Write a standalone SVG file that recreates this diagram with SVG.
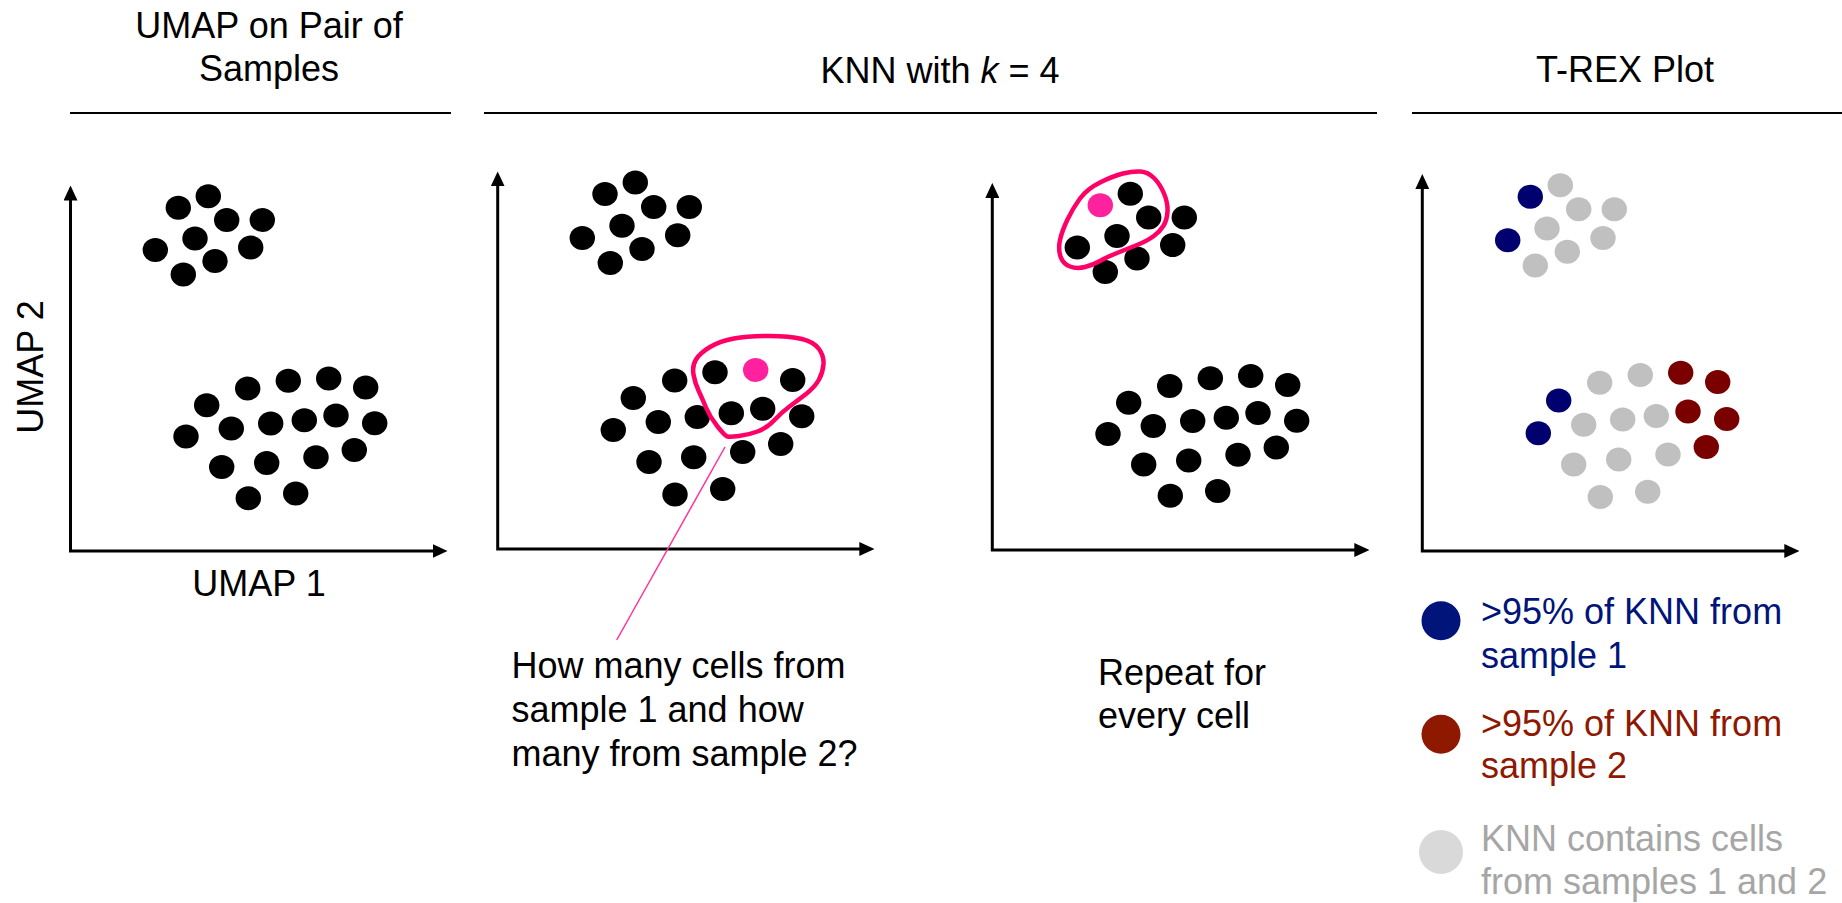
<svg xmlns="http://www.w3.org/2000/svg" width="1842" height="903" viewBox="0 0 1842 903">
<style>
.t{font-family:"Liberation Sans",Arial,sans-serif;font-size:36px;fill:#000}
.mid{text-anchor:middle}
.sep{stroke:#000;stroke-width:2;fill:none}
.ax{stroke:#000;stroke-width:3;fill:none;marker-start:url(#ah);marker-end:url(#ah)}
.k{fill:#000}
.pk{fill:#FF219E}
.nv{fill:#00006E}
.rd{fill:#7A0000}
.gy{fill:#C0C0C0}
.lasso{fill:none;stroke:#FF0066;stroke-width:4.5;stroke-linejoin:round}
.lead{stroke:#FF3399;stroke-width:1.5;fill:none}
</style>
<defs>
<marker id="ah" viewBox="0 0 15 14" refX="3" refY="7" markerWidth="15" markerHeight="14" markerUnits="userSpaceOnUse" orient="auto-start-reverse">
<path d="M0,0 L15,7 L0,14 z" fill="#000"/>
</marker>
</defs>
<rect width="1842" height="903" fill="#fff"/>

<g id="panel-umap">
<text class="t mid" x="269" y="38">UMAP on Pair of</text>
<text class="t mid" x="269" y="80.5">Samples</text>
<line class="sep" x1="70" y1="113" x2="451" y2="113"/>
<path class="ax" d="M70.5,197.5 L70.5,551 L435.5,551"/>
<text class="t mid" transform="translate(43,367) rotate(-90)">UMAP 2</text>
<text class="t mid" x="259" y="596">UMAP 1</text>
<g>
<ellipse class="k" cx="178.3" cy="207.8" rx="12.7" ry="12"/>
<ellipse class="k" cx="208.3" cy="196.3" rx="12.7" ry="12"/>
<ellipse class="k" cx="226.7" cy="220" rx="12.7" ry="12"/>
<ellipse class="k" cx="262.3" cy="220" rx="12.7" ry="12"/>
<ellipse class="k" cx="195" cy="238.4" rx="12.7" ry="12"/>
<ellipse class="k" cx="250.7" cy="247.6" rx="12.7" ry="12"/>
<ellipse class="k" cx="155.3" cy="249.9" rx="12.7" ry="12"/>
<ellipse class="k" cx="215" cy="261" rx="12.7" ry="12"/>
<ellipse class="k" cx="183.3" cy="274.4" rx="12.7" ry="12"/>
<ellipse class="k" cx="247.7" cy="388.4" rx="12.7" ry="12"/>
<ellipse class="k" cx="288.3" cy="380.7" rx="12.7" ry="12"/>
<ellipse class="k" cx="328.7" cy="378.5" rx="12.7" ry="12"/>
<ellipse class="k" cx="365.7" cy="387.6" rx="12.7" ry="12"/>
<ellipse class="k" cx="206.7" cy="405.2" rx="12.7" ry="12"/>
<ellipse class="k" cx="231.3" cy="428.6" rx="12.7" ry="12"/>
<ellipse class="k" cx="270.7" cy="423.6" rx="12.7" ry="12"/>
<ellipse class="k" cx="304.3" cy="420.2" rx="12.7" ry="12"/>
<ellipse class="k" cx="336" cy="415.6" rx="12.7" ry="12"/>
<ellipse class="k" cx="374.7" cy="423.2" rx="12.7" ry="12"/>
<ellipse class="k" cx="186" cy="436.6" rx="12.7" ry="12"/>
<ellipse class="k" cx="221.7" cy="466.9" rx="12.7" ry="12"/>
<ellipse class="k" cx="266.7" cy="463" rx="12.7" ry="12"/>
<ellipse class="k" cx="316" cy="457.3" rx="12.7" ry="12"/>
<ellipse class="k" cx="354.3" cy="450" rx="12.7" ry="12"/>
<ellipse class="k" cx="248.3" cy="498.2" rx="12.7" ry="12"/>
<ellipse class="k" cx="295.7" cy="493.6" rx="12.7" ry="12"/>
</g>
</g>

<g id="title-knn">
<text class="t mid" x="940" y="83">KNN with <tspan font-style="italic">k</tspan> = 4</text>
<line class="sep" x1="484" y1="113" x2="1377" y2="113"/>
</g>

<g id="panel-knn-1">
<path class="ax" d="M497.7,183.4 L497.7,549 L862.3,549"/>
<g>
<ellipse class="k" cx="605" cy="194" rx="12.7" ry="12"/>
<ellipse class="k" cx="635.3" cy="182.5" rx="12.7" ry="12"/>
<ellipse class="k" cx="653.7" cy="207" rx="12.7" ry="12"/>
<ellipse class="k" cx="689.3" cy="207" rx="12.7" ry="12"/>
<ellipse class="k" cx="622" cy="225.8" rx="12.7" ry="12"/>
<ellipse class="k" cx="677.7" cy="235.3" rx="12.7" ry="12"/>
<ellipse class="k" cx="582.3" cy="238" rx="12.7" ry="12"/>
<ellipse class="k" cx="642" cy="249.1" rx="12.7" ry="12"/>
<ellipse class="k" cx="610.3" cy="262.9" rx="12.7" ry="12"/>
<ellipse class="k" cx="674.7" cy="380.4" rx="12.7" ry="12"/>
<ellipse class="k" cx="715" cy="372.3" rx="12.7" ry="12"/>
<ellipse class="pk" cx="755.7" cy="370" rx="12.7" ry="12"/>
<ellipse class="k" cx="792.7" cy="380" rx="12.7" ry="12"/>
<ellipse class="k" cx="633.3" cy="398" rx="12.7" ry="12"/>
<ellipse class="k" cx="658.3" cy="422.1" rx="12.7" ry="12"/>
<ellipse class="k" cx="697.3" cy="417.1" rx="12.7" ry="12"/>
<ellipse class="k" cx="731.3" cy="413.3" rx="12.7" ry="12"/>
<ellipse class="k" cx="762.7" cy="408.7" rx="12.7" ry="12"/>
<ellipse class="k" cx="801.7" cy="416.3" rx="12.7" ry="12"/>
<ellipse class="k" cx="613.3" cy="430.1" rx="12.7" ry="12"/>
<ellipse class="k" cx="649" cy="461.9" rx="12.7" ry="12"/>
<ellipse class="k" cx="693.7" cy="457.3" rx="12.7" ry="12"/>
<ellipse class="k" cx="742.7" cy="451.9" rx="12.7" ry="12"/>
<ellipse class="k" cx="780.7" cy="443.9" rx="12.7" ry="12"/>
<ellipse class="k" cx="675" cy="494.4" rx="12.7" ry="12"/>
<ellipse class="k" cx="722.7" cy="489" rx="12.7" ry="12"/>
</g>
<path class="lasso" d="M717.5,426.5 Q710,417 706,407.5 Q702,398 698.5,390.5 Q695,383 693.5,374.5 Q692,366 696,359.5 Q700,353 710,347 Q720,341 734,338.5 Q748,336 769,336 Q790,336 802,339 Q814,342 819,349 Q824,356 823.5,364 Q823,372 819,379.5 Q815,387 806,394 Q797,401 789.5,406.5 Q782,412 774.5,420 Q767,428 757.5,431.5 Q748,435 739,436 Q730,437 727.5,436.5 Q725,436 717.5,426.5 Z"/>
<text class="t" x="511.5" y="678">How many cells from</text>
<text class="t" x="511.5" y="722">sample 1 and how</text>
<text class="t" x="511.5" y="766">many from sample 2?</text>
</g>

<g id="panel-knn-2">
<path class="ax" d="M992.3,194.9 L992.3,550 L1357.3,550"/>
<g>
<ellipse class="k" cx="1130.3" cy="193.8" rx="12.7" ry="12"/>
<ellipse class="pk" cx="1100.3" cy="205.3" rx="12.7" ry="12"/>
<ellipse class="k" cx="1148.7" cy="217.5" rx="12.7" ry="12"/>
<ellipse class="k" cx="1184.3" cy="217.5" rx="12.7" ry="12"/>
<ellipse class="k" cx="1117" cy="235.9" rx="12.7" ry="12"/>
<ellipse class="k" cx="1172.7" cy="245.1" rx="12.7" ry="12"/>
<ellipse class="k" cx="1077.3" cy="247.4" rx="12.7" ry="12"/>
<ellipse class="k" cx="1137" cy="258.5" rx="12.7" ry="12"/>
<ellipse class="k" cx="1105.3" cy="271.9" rx="12.7" ry="12"/>
<ellipse class="k" cx="1169.7" cy="385.9" rx="12.7" ry="12"/>
<ellipse class="k" cx="1210.3" cy="378.2" rx="12.7" ry="12"/>
<ellipse class="k" cx="1250.7" cy="376" rx="12.7" ry="12"/>
<ellipse class="k" cx="1287.7" cy="385.1" rx="12.7" ry="12"/>
<ellipse class="k" cx="1128.7" cy="402.7" rx="12.7" ry="12"/>
<ellipse class="k" cx="1153.3" cy="426.1" rx="12.7" ry="12"/>
<ellipse class="k" cx="1192.7" cy="421.1" rx="12.7" ry="12"/>
<ellipse class="k" cx="1226.3" cy="417.7" rx="12.7" ry="12"/>
<ellipse class="k" cx="1258" cy="413.1" rx="12.7" ry="12"/>
<ellipse class="k" cx="1296.7" cy="420.7" rx="12.7" ry="12"/>
<ellipse class="k" cx="1108" cy="434.1" rx="12.7" ry="12"/>
<ellipse class="k" cx="1143.7" cy="464.4" rx="12.7" ry="12"/>
<ellipse class="k" cx="1188.7" cy="460.5" rx="12.7" ry="12"/>
<ellipse class="k" cx="1238" cy="454.8" rx="12.7" ry="12"/>
<ellipse class="k" cx="1276.3" cy="447.5" rx="12.7" ry="12"/>
<ellipse class="k" cx="1170.3" cy="495.7" rx="12.7" ry="12"/>
<ellipse class="k" cx="1217.7" cy="491.1" rx="12.7" ry="12"/>
</g>
<path class="lasso" d="M1100,182.5 Q1113,176 1123,173.5 Q1133,171 1140.5,171.5 Q1148,172 1154,178 Q1160,184 1164,193.5 Q1168,203 1167.5,211.5 Q1167,220 1163.5,225.75 Q1160,231.5 1153.5,236.25 Q1147,241 1137,245 Q1127,249 1117,253 Q1107,257 1100,261 Q1093,265 1085,267 Q1077,269 1070,266.5 Q1063,264 1060.5,256.5 Q1058,249 1060,240 Q1062,231 1067.5,219.5 Q1073,208 1080,198.5 Q1087,189 1100,182.5 Z"/>
<text class="t" x="1098" y="685">Repeat for</text>
<text class="t" x="1098" y="728">every cell</text>
</g>

<g id="panel-trex">
<text class="t mid" x="1625" y="82">T-REX Plot</text>
<line class="sep" x1="1412" y1="113" x2="1842" y2="113"/>
<path class="ax" d="M1422.3,186.1 L1422.3,551 L1787.3,551"/>
<g>
<ellipse class="gy" cx="1560.3" cy="185.2" rx="12.7" ry="12"/>
<ellipse class="nv" cx="1530.3" cy="196.7" rx="12.7" ry="12"/>
<ellipse class="gy" cx="1578.7" cy="209.3" rx="12.7" ry="12"/>
<ellipse class="gy" cx="1614.3" cy="209.3" rx="12.7" ry="12"/>
<ellipse class="gy" cx="1547" cy="228.4" rx="12.7" ry="12"/>
<ellipse class="gy" cx="1603" cy="238" rx="12.7" ry="12"/>
<ellipse class="nv" cx="1507.7" cy="240.3" rx="12.7" ry="12"/>
<ellipse class="gy" cx="1567.3" cy="251.8" rx="12.7" ry="12"/>
<ellipse class="gy" cx="1535.3" cy="265.6" rx="12.7" ry="12"/>
<ellipse class="gy" cx="1599.7" cy="382.7" rx="12.7" ry="12"/>
<ellipse class="gy" cx="1640.3" cy="375" rx="12.7" ry="12"/>
<ellipse class="rd" cx="1680.7" cy="372.7" rx="12.7" ry="12"/>
<ellipse class="rd" cx="1717.7" cy="381.9" rx="12.7" ry="12"/>
<ellipse class="nv" cx="1558.7" cy="400.6" rx="12.7" ry="12"/>
<ellipse class="gy" cx="1583.7" cy="424.8" rx="12.7" ry="12"/>
<ellipse class="gy" cx="1622.7" cy="419.4" rx="12.7" ry="12"/>
<ellipse class="gy" cx="1656.3" cy="416" rx="12.7" ry="12"/>
<ellipse class="rd" cx="1688" cy="411.4" rx="12.7" ry="12"/>
<ellipse class="rd" cx="1726.7" cy="419" rx="12.7" ry="12"/>
<ellipse class="nv" cx="1538.3" cy="433.2" rx="12.7" ry="12"/>
<ellipse class="gy" cx="1573.7" cy="464.5" rx="12.7" ry="12"/>
<ellipse class="gy" cx="1618.7" cy="459.6" rx="12.7" ry="12"/>
<ellipse class="gy" cx="1668" cy="454.6" rx="12.7" ry="12"/>
<ellipse class="rd" cx="1706.3" cy="447" rx="12.7" ry="12"/>
<ellipse class="gy" cx="1600.3" cy="497.1" rx="12.7" ry="12"/>
<ellipse class="gy" cx="1647.7" cy="491.7" rx="12.7" ry="12"/>
</g>
</g>

<g id="legend">
<g id="legend-sample1">
<circle cx="1441" cy="620.7" r="19.5" fill="#001479"/>
<text class="t" x="1481" y="624.3" fill="#001479" style="fill:#001479">&gt;95% of KNN from</text>
<text class="t" x="1481" y="668.3" style="fill:#001479">sample 1</text>
</g>
<g id="legend-sample2">
<circle cx="1441" cy="734.3" r="19.5" fill="#8E1800"/>
<text class="t" x="1481" y="736" style="fill:#8E1800">&gt;95% of KNN from</text>
<text class="t" x="1481" y="778.3" style="fill:#8E1800">sample 2</text>
</g>
<g id="legend-mixed">
<circle cx="1441" cy="852" r="22" fill="#D9D9D9"/>
<text class="t" x="1481" y="850.5" style="fill:#A6A6A6">KNN contains cells</text>
<text class="t" x="1481" y="893.5" style="fill:#A6A6A6">from samples 1 and 2</text>
</g>
</g>

<g id="connectors">
<line class="lead" x1="725" y1="447" x2="616.7" y2="640"/>
</g>
</svg>
